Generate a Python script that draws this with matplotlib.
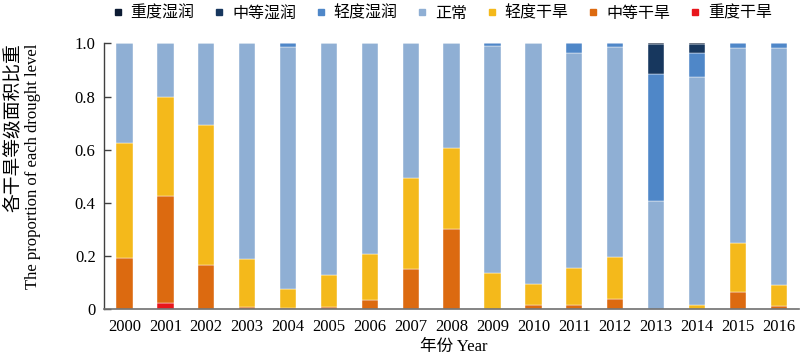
import matplotlib
matplotlib.use("Agg")
import matplotlib.pyplot as plt
from matplotlib.lines import Line2D
import numpy as np

plt.rcParams['font.family'] = ['Liberation Serif', 'Noto Sans CJK SC']

years = ['2000', '2001', '2002', '2003', '2004', '2005', '2006', '2007', '2008',
         '2009', '2010', '2011', '2012', '2013', '2014', '2015', '2016']

# proportion of each drought level, stacked bottom -> top
severe_dry   = [0, 0.025, 0, 0, 0, 0, 0, 0, 0, 0, 0, 0, 0, 0, 0, 0, 0]
moderate_dry = [0.194, 0.401, 0.168, 0.010, 0.006, 0.008, 0.035, 0.153, 0.302,
                0.000, 0.016, 0.017, 0.038, 0, 0, 0.065, 0.014]
light_dry    = [0.433, 0.371, 0.524, 0.178, 0.069, 0.121, 0.174, 0.341, 0.305,
                0.137, 0.079, 0.140, 0.157, 0, 0.015, 0.183, 0.076]
normal       = [0.373, 0.203, 0.308, 0.812, 0.910, 0.871, 0.791, 0.506, 0.393,
                0.852, 0.905, 0.808, 0.791, 0.407, 0.860, 0.734, 0.891]
light_wet    = [0, 0, 0, 0, 0.015, 0, 0, 0, 0, 0.011, 0, 0.035, 0.014, 0.476,
                0.087, 0.018, 0.019]
moderate_wet = [0, 0, 0, 0, 0, 0, 0, 0, 0, 0, 0, 0, 0, 0.113, 0.035, 0, 0]
severe_wet   = [0, 0, 0, 0, 0, 0, 0, 0, 0, 0, 0, 0, 0, 0.004, 0.003, 0, 0]

series = [
    ('重度干旱', severe_dry, '#e8161c'),
    ('中等干旱', moderate_dry, '#dc6a10'),
    ('轻度干旱', light_dry, '#f4b91b'),
    ('正常', normal, '#8fafd4'),
    ('轻度湿润', light_wet, '#4f87c8'),
    ('中等湿润', moderate_wet, '#17375e'),
    ('重度湿润', severe_wet, '#0c1b33'),
]

fig = plt.figure(figsize=(8, 3.57), dpi=100)
ax = fig.add_axes([0.13, 0.1336, 0.869, 0.7451])

x = np.arange(len(years))
bottom = np.zeros(len(years))
for name, vals, c in series:
    ax.bar(x, vals, width=0.4, bottom=bottom, color=c, edgecolor='white',
           linewidth=0.3)
    bottom += np.array(vals)

ax.set_xlim(-0.5, len(years) - 0.5)
ax.set_ylim(0, 1.0)
ax.set_xticks(x, years)
ax.set_yticks([0, 0.2, 0.4, 0.6, 0.8, 1.0], ['0', '0.2', '0.4', '0.6', '0.8', '1.0'])
ax.tick_params(axis='x', length=0, labelsize=12, pad=7)
ax.tick_params(axis='y', direction='in', length=5, width=1, labelsize=12,
               pad=6, color='#404040')
ax.spines['top'].set_visible(False)
ax.spines['right'].set_visible(False)
ax.spines['left'].set_color('#404040')
ax.spines['bottom'].set_color('#707070')
ax.spines['left'].set_linewidth(1)
ax.spines['bottom'].set_linewidth(1.2)

# two-line y label
fig.text(0.016, 0.878, '各干旱等级面积比重', rotation=90, ha='center', va='top',
         fontsize=13.5)
fig.text(0.041, 0.878, 'The proportion of each drought level', rotation=90,
         ha='center', va='top', fontsize=12)
fig.text(0.567, 0.028, '年份 Year', ha='center', va='center', fontsize=12)

handles = [Line2D([], [], marker='s', linestyle='none', markersize=5,
                  color=c) for name, vals, c in series[::-1]]
labels = [name for name, vals, c in series[::-1]]
fig.legend(handles, labels, loc='center', bbox_to_anchor=(0.551, 0.962),
           ncol=7, frameon=False, fontsize=11.5, handletextpad=0.3,
           columnspacing=1.05, handlelength=1.0, borderaxespad=0)

fig.savefig('out.png', dpi=100)
